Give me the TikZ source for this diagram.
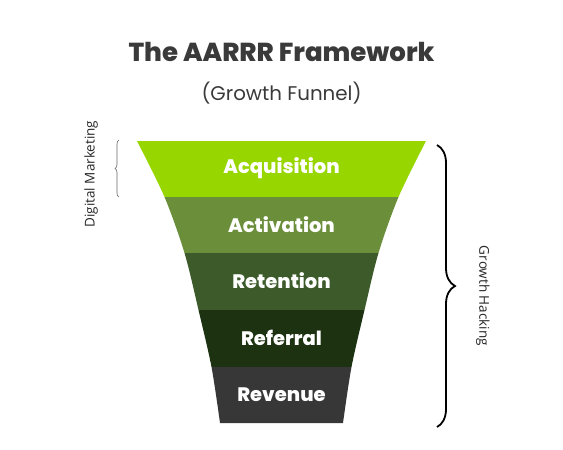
\documentclass[tikz,border=0pt]{standalone}
\usepackage{fontspec}
\setmainfont{Poppins}
\newfontfamily\heavy{Poppins}[UprightFont=*-ExtraBold]
\newfontfamily\sidefont{Open Sans}
\usetikzlibrary{decorations.pathreplacing}
\definecolor{cAcq}{HTML}{98D600}
\definecolor{cAct}{HTML}{6A8E39}
\definecolor{cRet}{HTML}{3D5B2A}
\definecolor{cRef}{HTML}{1C3211}
\definecolor{cRev}{HTML}{373737}
\definecolor{titlegray}{HTML}{3A3A3A}
\tikzset{
  bandlabel/.style={text=white, font=\heavy\fontsize{19.5}{22}\selectfont, anchor=center},
  sidelabel/.style={font=\sidefont\fontsize{13.5}{15}\selectfont, text=black!85},
}
\begin{document}
\begin{tikzpicture}[x=1pt,y=-1pt]
\useasboundingbox (0,0) rectangle (563,450);
% title
\node[font=\heavy\fontsize{26}{29}\selectfont, text=titlegray] (title) at (281.5,52) {The AARRR Framework};
\node[font=\fontsize{19.8}{22}\selectfont, text=titlegray] (subtitle) at (281.5,93) {(Growth Funnel)};
% funnel
\begin{scope}
\path[clip] plot[smooth] coordinates {(137,141) (164.5,197) (184.5,253) (198.5,310) (211.5,367) (220,423)}
  -- plot[smooth] coordinates {(343,423) (351.5,367) (364.5,310) (378.5,253) (398.5,197) (426,141)} -- cycle;
\fill[cAcq] (100,140) rectangle (460,197);
\fill[cAct] (100,197) rectangle (460,253);
\fill[cRet] (100,253) rectangle (460,310);
\fill[cRef] (100,310) rectangle (460,367);
\fill[cRev] (100,367) rectangle (460,424);
\end{scope}
\node[bandlabel] (acq) at (281.5,168) {Acquisition};
\node[bandlabel] (act) at (281.5,224.5) {Activation};
\node[bandlabel] (ret) at (281.5,281) {Retention};
\node[bandlabel] (ref) at (281.5,338) {Referral};
\node[bandlabel] (rev) at (281.5,394.5) {Revenue};
% left brace
\coordinate (lb1) at (119,197);
\coordinate (lb2) at (119,140);
\draw[decorate, decoration={brace, amplitude=4pt}, draw=black!60, line width=0.6pt] (lb1) -- (lb2);
\node[sidelabel, rotate=90] (dm) at (91,174) {Digital Marketing};
% right brace
\coordinate (rb1) at (437,145);
\coordinate (rb2) at (437,427);
\draw[decorate, decoration={brace, amplitude=18pt}, line width=1.8pt] (rb1) -- (rb2);
\node[sidelabel, rotate=-90] (gh) at (483,296) {Growth Hacking};
\end{tikzpicture}
\end{document}
